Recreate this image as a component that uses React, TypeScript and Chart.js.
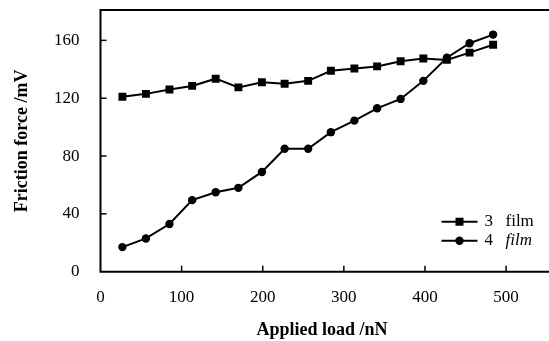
import React, { useEffect, useRef } from "react";
import { Chart, registerables } from "chart.js";
Chart.register(...registerables);

const loads = [27, 56, 85, 113, 142, 170, 199, 227, 256, 284, 313, 341, 370, 398, 427, 455, 484];
const film3 = [121, 123, 126, 128.5, 133.5, 127.5, 131, 130, 132, 139, 140.5, 142, 145.5, 147.5, 146.5, 151.5, 157];
const film4 = [17, 23, 33, 49.5, 55, 58, 69, 85, 85, 96.5, 104.5, 113, 119.5, 132, 148, 158, 164];
const xTicks = [0, 100, 200, 300, 400, 500];
const yTicks = [0, 40, 80, 120, 160];
const seriesNumbers = ["3", "4"];
const seriesWord = "film";

const FONT = '"Liberation Serif", "Times New Roman", serif';

const framePlugin = {
  id: "frameTicks",
  afterDraw(chart: any) {
    const { ctx, chartArea } = chart;
    const { left, right, top, bottom } = chartArea;
    const xs = chart.scales.x;
    const ys = chart.scales.y;
    ctx.save();
    ctx.strokeStyle = "#000";
    ctx.lineWidth = 2;
    ctx.beginPath();
    ctx.moveTo(right + 10, top);
    ctx.lineTo(left, top);
    ctx.lineTo(left, bottom);
    ctx.lineTo(right + 10, bottom);
    ctx.stroke();
    ctx.lineWidth = 1.5;
    xTicks.forEach((v) => {
      if (v === 0) return;
      const px = xs.getPixelForValue(v);
      ctx.beginPath();
      ctx.moveTo(px, bottom);
      ctx.lineTo(px, bottom - 6);
      ctx.stroke();
    });
    yTicks.forEach((v) => {
      if (v === 0) return;
      const py = ys.getPixelForValue(v);
      ctx.beginPath();
      ctx.moveTo(left, py);
      ctx.lineTo(left + 6, py);
      ctx.stroke();
    });
    // legend
    const rows = [
      { y: bottom - 50, ds: chart.data.datasets[0], italic: false },
      { y: bottom - 31, ds: chart.data.datasets[1], italic: true },
    ];
    rows.forEach((r, i) => {
      const x0 = left + 341;
      const x1 = left + 377;
      ctx.strokeStyle = "#000";
      ctx.lineWidth = 2;
      ctx.beginPath();
      ctx.moveTo(x0, r.y);
      ctx.lineTo(x1, r.y);
      ctx.stroke();
      ctx.fillStyle = "#000";
      const mx = (x0 + x1) / 2;
      if (r.ds.pointStyle === "rect") {
        ctx.fillRect(mx - 4, r.y - 4, 8, 8);
      } else {
        ctx.beginPath();
        ctx.arc(mx, r.y, 4.2, 0, Math.PI * 2);
        ctx.fill();
      }
      ctx.textBaseline = "middle";
      ctx.textAlign = "left";
      ctx.font = `17px ${FONT}`;
      ctx.fillText(seriesNumbers[i], left + 384, r.y);
      ctx.font = `${r.italic ? "italic " : ""}17px ${FONT}`;
      ctx.fillText(seriesWord, left + 405, r.y);
    });
    ctx.restore();
  },
};

export default function App() {
  const ref = useRef<HTMLCanvasElement | null>(null);
  useEffect(() => {
    if (!ref.current) return;
    const chart = new Chart(ref.current, {
      type: "line",
      data: {
        datasets: [
          {
            label: "3 film",
            data: loads.map((x, i) => ({ x, y: film3[i] })),
            borderColor: "#000",
            backgroundColor: "#000",
            borderWidth: 2,
            pointStyle: "rect",
            pointRadius: 5.6,
            pointBorderWidth: 0,
            tension: 0,
          },
          {
            label: "4 film",
            data: loads.map((x, i) => ({ x, y: film4[i] })),
            borderColor: "#000",
            backgroundColor: "#000",
            borderWidth: 2,
            pointStyle: "circle",
            pointRadius: 4.2,
            pointBorderWidth: 0,
            tension: 0,
          },
        ],
      },
      options: {
        responsive: false,
        animation: false,
        devicePixelRatio: 1,
        layout: { padding: { top: 10, right: 0, left: 0, bottom: 0 } },
        plugins: { legend: { display: false }, tooltip: { enabled: false } },
        scales: {
          x: {
            type: "linear",
            min: 0,
            max: 546,
            afterBuildTicks: (s: any) => {
              s.ticks = xTicks.map((v) => ({ value: v }));
            },
            afterFit: (s: any) => {
              s.height = 69.3;
              s.paddingLeft = 0;
              s.paddingRight = 0;
            },
            grid: { display: false, drawTicks: false },
            border: { display: false },
            ticks: {
              color: "#000",
              font: { family: FONT, size: 17 },
              padding: 16,
              maxRotation: 0,
              autoSkip: false,
            },
            title: {
              display: true,
              text: "Applied load /nN",
              color: "#000",
              font: { family: FONT, size: 18, weight: "bold" },
              padding: { top: 0, bottom: 0 },
            },
          },
          y: {
            type: "linear",
            min: 0,
            max: 181,
            afterBuildTicks: (s: any) => {
              s.ticks = yTicks.map((v) => ({ value: v }));
            },
            afterFit: (s: any) => {
              s.width = 100.5;
              s.paddingTop = 0;
              s.paddingBottom = 0;
            },
            grid: { display: false, drawTicks: false },
            border: { display: false },
            ticks: {
              color: "#000",
              font: { family: FONT, size: 17 },
              padding: 21,
              autoSkip: false,
            },
            title: {
              display: true,
              text: "Friction force /mV",
              color: "#000",
              font: { family: FONT, size: 18, weight: "bold" },
              padding: { top: 12, bottom: 0 },
            },
          },
        },
      },
      plugins: [
        framePlugin,
        {
          id: "forceRight",
          afterLayout(chart: any) {
            // diagnostics no-op
          },
        },
      ],
    });
    // Ensure the chart area reaches the canvas's right edge
    const ca = chart.chartArea;
    if (ca.right < 548) {
      (chart.options as any).layout.padding.right = -(549 - ca.right);
      chart.update();
    }
    return () => chart.destroy();
  }, []);
  return (
    <div style={{ position: "fixed", left: 0, top: 0, width: 549, height: 341, background: "#fff", overflow: "hidden" }}>
      <canvas ref={ref} width={549} height={341} style={{ width: 549, height: 341, display: "block" }} />
    </div>
  );
}
